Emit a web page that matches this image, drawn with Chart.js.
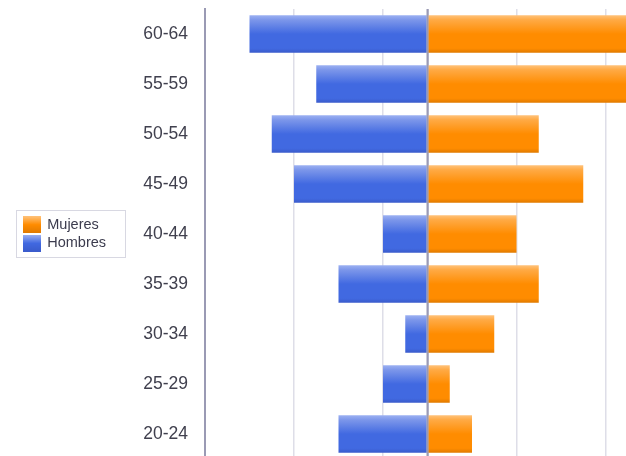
<!DOCTYPE html>
<html>
<head>
<meta charset="utf-8">
<script src="https://cdn.jsdelivr.net/npm/chart.js@4.4.0/dist/chart.umd.min.js"></script>
<style>
  html, body { margin: 0; padding: 0; background: #fff; overflow: hidden; }
  #wrap { position: absolute; left: 0; top: 0; width: 660px; height: 470px; }
</style>
</head>
<body>
<div id="wrap"><canvas id="pyramid"></canvas></div>
<script>
// age groups, top to bottom
const ageGroups = ['60-64', '55-59', '50-54', '45-49', '40-44', '35-39', '30-34', '25-29', '20-24'];
// values (men drawn to the left as negatives)
const mujeres = [11, 10, 5, 7, 4, 5, 3, 1, 2];
const hombres = [8, 5, 7, 6, 2, 4, 1, 2, 4];
const gridTicks = [-6, -2, 0, 4, 8];

const BLUE = ['#9cb1f2', '#7d97ea', '#4169e1', '#4169e1', '#3a5bcb'];
const ORANGE = ['#ffc27a', '#ffaa45', '#ff8c00', '#ff8c00', '#e07a00'];
const AXIS = '#9a9ab4';

function barGradient(colors) {
  return function (ctx) {
    const chart = ctx.chart;
    if (!chart.chartArea) return colors[2];
    const y = chart.scales.y;
    const c = y.getPixelForValue(ctx.dataIndex);
    const h = Math.abs(y.getPixelForValue(1) - y.getPixelForValue(0)) * 0.75;
    const g = chart.ctx.createLinearGradient(0, c - h / 2, 0, c + h / 2);
    g.addColorStop(0, colors[0]);
    g.addColorStop(0.12, colors[1]);
    g.addColorStop(0.5, colors[2]);
    g.addColorStop(0.88, colors[3]);
    g.addColorStop(1, colors[4]);
    return g;
  };
}

function legendSwatch(colors) {
  const cv = document.createElement('canvas');
  cv.width = 18; cv.height = 17;
  const c = cv.getContext('2d');
  const g = c.createLinearGradient(0, 0, 0, 17);
  g.addColorStop(0, colors[0]);
  g.addColorStop(0.5, colors[2]);
  g.addColorStop(1, colors[4]);
  c.fillStyle = g;
  c.fillRect(0, 0, 18, 17);
  return cv;
}

// thin frame round the legend
const legendBorder = {
  id: 'legendBorder',
  afterDraw(chart) {
    const ctx = chart.ctx;
    ctx.save();
    ctx.strokeStyle = '#d8d8e2';
    ctx.lineWidth = 1;
    ctx.strokeRect(16.5, 210.5, 109, 47);
    ctx.restore();
  }
};

// zero line sits on top of the bars
const zeroLine = {
  id: 'zeroLine',
  afterDatasetsDraw(chart) {
    const x = chart.scales.x.getPixelForValue(0);
    const a = chart.chartArea;
    const ctx = chart.ctx;
    ctx.save();
    ctx.strokeStyle = AXIS;
    ctx.lineWidth = 2;
    ctx.beginPath();
    ctx.moveTo(x, a.top);
    ctx.lineTo(x, a.bottom);
    ctx.stroke();
    ctx.restore();
  }
};

Chart.defaults.font.family = 'Arial, "Liberation Sans", sans-serif';

new Chart(document.getElementById('pyramid'), {
  type: 'bar',
  data: {
    labels: ageGroups,
    datasets: [{
      label: 'Mujeres',
      data: mujeres,
      backgroundColor: barGradient(ORANGE),
      pointStyle: legendSwatch(ORANGE)
    }, {
      label: 'Hombres',
      data: hombres.map(v => -v),
      backgroundColor: barGradient(BLUE),
      pointStyle: legendSwatch(BLUE)
    }]
  },
  plugins: [legendBorder, zeroLine],
  options: {
    indexAxis: 'y',
    responsive: true,
    maintainAspectRatio: false,
    animation: false,
    categoryPercentage: 1,
    barPercentage: 0.75,
    layout: { padding: { left: 20, top: 9, right: 10, bottom: 11 } },
    scales: {
      x: {
        stacked: true,
        min: -10,
        max: 10,
        afterBuildTicks: s => { s.ticks = gridTicks.map(v => ({ value: v })); },
        ticks: { display: false },
        border: { display: false },
        grid: {
          drawTicks: false,
          color: c => c.tick && c.tick.value === 0 ? AXIS : '#dedee8',
          lineWidth: 1.5
        }
      },
      y: {
        stacked: true,
        afterFit: s => {
          s.width = 205 - 20 - s.chart.legend.width;
          s.paddingTop = 0;
          s.paddingBottom = 0;
        },
        grid: { display: false, drawTicks: false },
        border: { color: AXIS, width: 2 },
        ticks: { color: '#40404e', font: { size: 17.5 }, padding: 17 }
      }
    },
    plugins: {
      tooltip: { enabled: false },
      legend: {
        position: 'left',
        align: 'center',
        labels: {
          usePointStyle: true,
          pointStyleWidth: 16,
          boxHeight: 14,
          padding: 4,
          color: '#3c3c4e',
          font: { size: 14.5 }
        }
      }
    }
  }
});
</script>
</body>
</html>
